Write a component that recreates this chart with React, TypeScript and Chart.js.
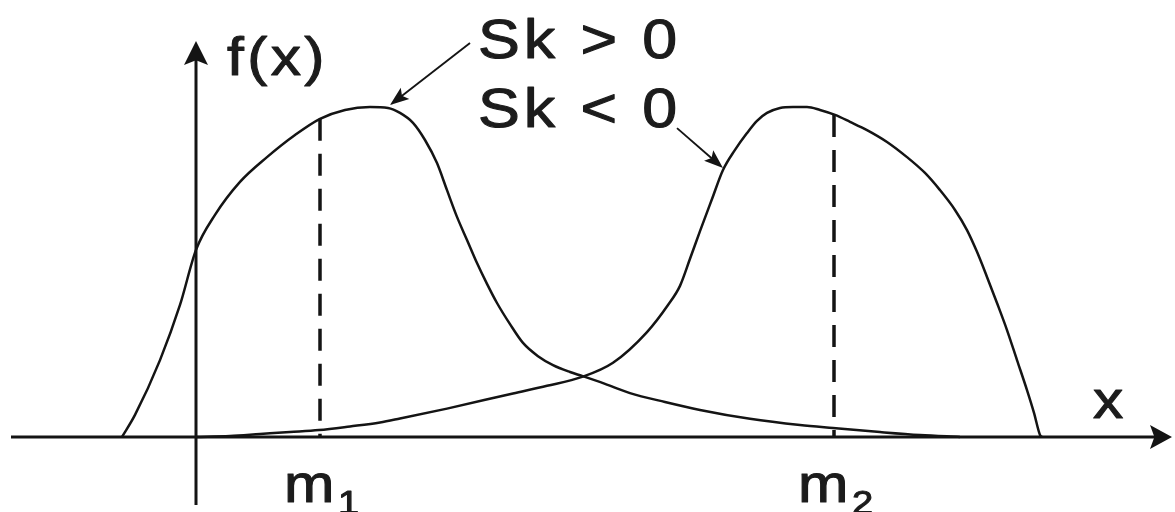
import React, { useEffect, useRef } from 'react';
import { Chart, registerables } from 'chart.js';

Chart.register(...registerables);

// Positively skewed density (Sk > 0): x positions and heights
const curve1X = [-0.74, -0.61, -0.36, -0.16, 0.0, 0.19, 0.44, 0.71, 0.99, 1.24, 1.49, 1.74, 1.92, 2.04, 2.17, 2.29, 2.41, 2.51, 2.61, 2.71, 2.81, 2.91, 3.01, 3.14, 3.27, 3.42, 3.57, 3.74, 3.86, 4.09, 4.34, 4.69, 5.04, 5.54, 6.04, 6.37, 6.84, 7.24, 7.64];
const curve1Y = [0, 0.067, 0.233, 0.4, 0.567, 0.673, 0.773, 0.848, 0.915, 0.964, 0.991, 1.0, 0.997, 0.982, 0.952, 0.9, 0.83, 0.748, 0.667, 0.597, 0.527, 0.464, 0.406, 0.342, 0.285, 0.245, 0.218, 0.197, 0.185, 0.161, 0.133, 0.106, 0.082, 0.055, 0.036, 0.027, 0.015, 0.006, 0];

// Negatively skewed density (Sk < 0)
const curve2X = [0.0, 0.34, 0.64, 0.94, 1.23, 1.54, 1.84, 2.04, 2.51, 3.17, 3.51, 3.86, 4.17, 4.51, 4.72, 4.84, 4.94, 5.04, 5.16, 5.27, 5.39, 5.51, 5.61, 5.71, 5.84, 5.97, 6.11, 6.24, 6.39, 6.54, 6.71, 6.91, 7.11, 7.29, 7.44, 7.59, 7.71, 7.81, 7.91, 8.01, 8.11, 8.21, 8.31, 8.38, 8.44, 8.46];
const curve2Y = [0, 0.003, 0.009, 0.015, 0.021, 0.032, 0.044, 0.056, 0.086, 0.132, 0.155, 0.182, 0.225, 0.318, 0.4, 0.458, 0.54, 0.624, 0.721, 0.809, 0.87, 0.921, 0.958, 0.982, 0.997, 1.0, 1.0, 0.991, 0.976, 0.955, 0.93, 0.894, 0.848, 0.8, 0.748, 0.688, 0.627, 0.561, 0.485, 0.406, 0.324, 0.233, 0.142, 0.073, 0.006, 0];

// Modes of the two densities and the density height there
const modeX = [1.24, 6.38];
const modeY = [0.964, 0.976];
const modeSubscripts = ['1', '2'];

// Skewness labels and the point on each curve they refer to
const skewLabels = ['Sk > 0', 'Sk < 0'];
const skewTargetX = [1.94, 5.27];
const skewTargetY = [1.006, 0.815];

const INK = '#141414';
const FONT = '"Liberation Sans", Arial, Helvetica, sans-serif';

// Visible window in axis units
const X_MIN = -1.96;
const X_MAX = 9.79;
const Y_MIN = -0.2273;
const Y_MAX = 1.3242;

const toPoints = (xs: number[], ys: number[]) => xs.map((x, i) => ({ x, y: ys[i] }));

function arrowHead(ctx: CanvasRenderingContext2D, tx: number, ty: number, angle: number, len: number, half: number) {
  ctx.save();
  ctx.translate(tx, ty);
  ctx.rotate(angle);
  ctx.beginPath();
  ctx.moveTo(0, 0);
  ctx.lineTo(-len, -half);
  ctx.lineTo(-len * 0.8, 0);
  ctx.lineTo(-len, half);
  ctx.closePath();
  ctx.fill();
  ctx.restore();
}

function drawText(ctx: CanvasRenderingContext2D, text: string, x: number, y: number, size: number, spacing: number) {
  ctx.save();
  ctx.translate(x, y);
  ctx.scale(1.12, 1);
  ctx.font = `${size}px ${FONT}`;
  (ctx as any).letterSpacing = `${spacing}px`;
  ctx.textAlign = 'left';
  ctx.textBaseline = 'alphabetic';
  ctx.fillStyle = '#1c1c1c';
  ctx.strokeStyle = '#1c1c1c';
  ctx.lineWidth = 1.1;
  ctx.lineJoin = 'round';
  ctx.fillText(text, 0, 0);
  ctx.strokeText(text, 0, 0);
  ctx.restore();
}

const diagramPlugin = {
  id: 'skewDiagram',
  beforeDatasetsDraw(chart: any) {
    const { ctx, scales } = chart;
    const xs = scales.x;
    const ys = scales.y;
    const x0 = xs.getPixelForValue(0);
    const y0 = ys.getPixelForValue(0);
    ctx.save();
    ctx.strokeStyle = INK;
    ctx.fillStyle = INK;
    ctx.lineWidth = 3;
    // horizontal axis
    const xl = xs.getPixelForValue(-1.85);
    const xr = xs.getPixelForValue(9.76);
    ctx.beginPath();
    ctx.moveTo(xl, y0);
    ctx.lineTo(xr - 14, y0);
    ctx.stroke();
    arrowHead(ctx, xr, y0, 0, 22, 12);
    // vertical axis
    const yb = ys.getPixelForValue(-0.206);
    const yt = ys.getPixelForValue(1.2);
    ctx.beginPath();
    ctx.moveTo(x0, yb);
    ctx.lineTo(x0, yt + 14);
    ctx.stroke();
    arrowHead(ctx, x0, yt, -Math.PI / 2, 24, 12);
    ctx.restore();
  },
  afterDatasetsDraw(chart: any) {
    const { ctx, scales } = chart;
    const xs = scales.x;
    const ys = scales.y;
    const x0 = xs.getPixelForValue(0);
    const y0 = ys.getPixelForValue(0);

    // axis titles
    drawText(ctx, 'f(x)', x0 + 31, ys.getPixelForValue(1.097), 54, 3);
    drawText(ctx, 'x', xs.getPixelForValue(8.97), ys.getPixelForValue(0.058), 54, 0);

    // mode labels under the dashed lines
    modeX.forEach((m, i) => {
      const px = xs.getPixelForValue(m);
      drawText(ctx, 'm', px - 36, y0 + 65, 54, 0);
      drawText(ctx, modeSubscripts[i], px + 18, y0 + 77, 34, 0);
    });

    // skewness labels with pointer arrows
    const textLeft = xs.getPixelForValue(2.82);
    const baselines = [ys.getPixelForValue(1.148), ys.getPixelForValue(0.939)];
    skewLabels.forEach((t, i) => drawText(ctx, t, textLeft, baselines[i], 56, 3.5));

    const starts = [
      [xs.getPixelForValue(2.74), ys.getPixelForValue(1.194)],
      [xs.getPixelForValue(4.81), ys.getPixelForValue(0.936)],
    ];
    ctx.save();
    ctx.strokeStyle = INK;
    ctx.fillStyle = INK;
    ctx.lineWidth = 1.9;
    starts.forEach(([sx, sy], i) => {
      const tx = xs.getPixelForValue(skewTargetX[i]);
      const ty = ys.getPixelForValue(skewTargetY[i]);
      const ang = Math.atan2(ty - sy, tx - sx);
      ctx.beginPath();
      ctx.moveTo(sx, sy);
      ctx.lineTo(tx - Math.cos(ang) * 12, ty - Math.sin(ang) * 12);
      ctx.stroke();
      arrowHead(ctx, tx, ty, ang, 19, 7);
    });
    ctx.restore();
  },
};

export default function App() {
  const canvasRef = useRef<HTMLCanvasElement | null>(null);

  useEffect(() => {
    document.body.style.margin = '0';
    document.body.style.background = '#ffffff';
    const canvas = canvasRef.current;
    if (!canvas) return;

    const curveStyle = {
      borderColor: INK,
      borderWidth: 2.5,
      pointRadius: 0,
      fill: false,
      cubicInterpolationMode: 'monotone' as const,
    };
    const dashStyle = {
      borderColor: INK,
      borderWidth: 3.5,
      borderDash: [22, 13],
      pointRadius: 0,
      fill: false,
      tension: 0,
    };

    const chart = new Chart(canvas, {
      type: 'line',
      data: {
        datasets: [
          { label: 'Sk > 0', data: toPoints(curve1X, curve1Y), ...curveStyle },
          { label: 'Sk < 0', data: toPoints(curve2X, curve2Y), ...curveStyle },
          ...modeX.map((m, i) => ({
            label: `m${modeSubscripts[i]}`,
            data: [{ x: m, y: modeY[i] }, { x: m, y: 0 }],
            ...dashStyle,
          })),
        ],
      },
      options: {
        animation: false,
        responsive: false,
        maintainAspectRatio: false,
        devicePixelRatio: 1,
        layout: { padding: 0 },
        events: [],
        scales: {
          x: { type: 'linear', min: X_MIN, max: X_MAX, display: false },
          y: { type: 'linear', min: Y_MIN, max: Y_MAX, display: false },
        },
        plugins: {
          legend: { display: false },
          tooltip: { enabled: false },
        },
      },
      plugins: [diagramPlugin],
    });

    return () => chart.destroy();
  }, []);

  return <canvas ref={canvasRef} width={1175} height={512} style={{ display: 'block' }} />;
}
